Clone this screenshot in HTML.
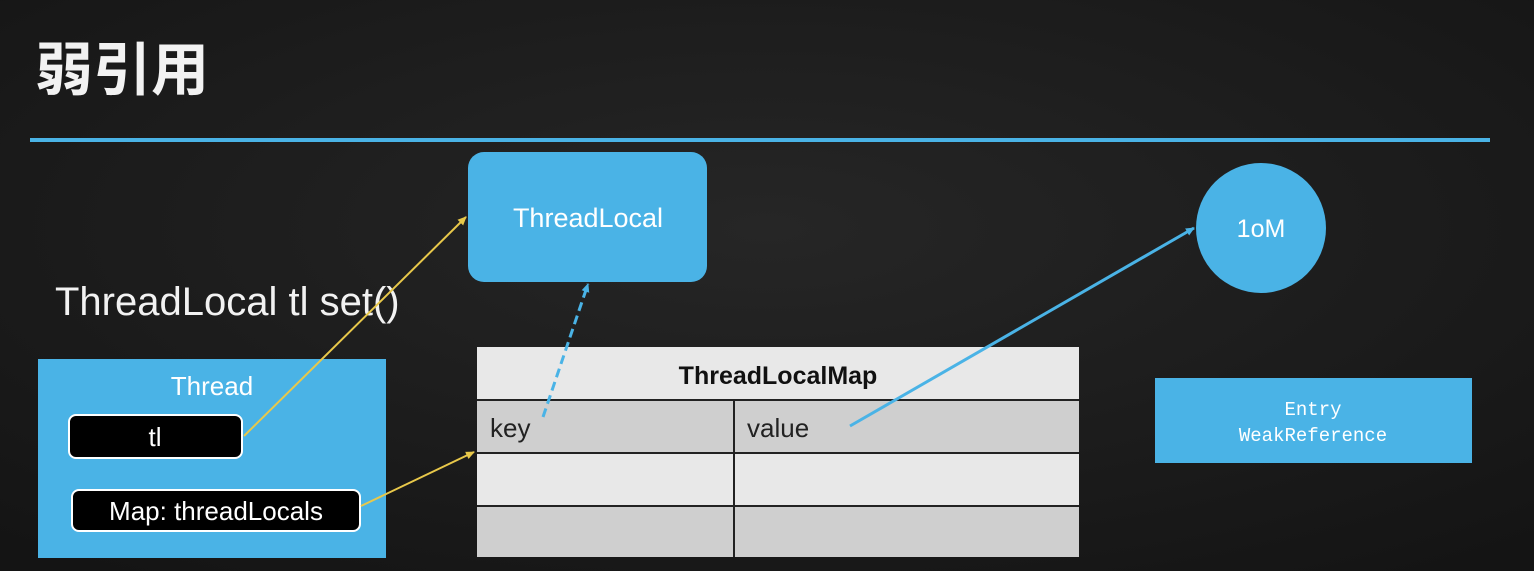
<!DOCTYPE html>
<html><head><meta charset="utf-8"><style>
html,body{margin:0;padding:0;background:#1b1b1b;}
svg{display:block}
</style></head><body>
<svg width="1534" height="571" viewBox="0 0 1534 571" xmlns="http://www.w3.org/2000/svg" font-family="Liberation Sans, sans-serif">
<defs>
<radialGradient id="bg" cx="50%" cy="40%" r="75%"><stop offset="0" stop-color="#262626"/><stop offset="1" stop-color="#141414"/></radialGradient>
<marker id="ay" markerWidth="10" markerHeight="10" refX="8" refY="5" orient="auto" markerUnits="userSpaceOnUse"><path d="M0,1 L9,5 L0,9 z" fill="#e8c84a"/></marker>
<marker id="ab" markerWidth="10" markerHeight="10" refX="8" refY="5" orient="auto" markerUnits="userSpaceOnUse"><path d="M0,1 L9,5 L0,9 z" fill="#4ab3e6"/></marker>
</defs>
<rect width="1534" height="571" fill="url(#bg)"/>
<text x="35" y="90" font-size="58" font-weight="bold" fill="#f2f2f2" font-family="Noto Sans CJK SC, sans-serif">弱引用</text>
<line x1="30" y1="140" x2="1490" y2="140" stroke="#4ab3e6" stroke-width="4"/>
<rect x="468" y="152" width="239" height="130" rx="16" fill="#4ab3e6"/>
<text x="588" y="227" font-size="27" fill="#fff" text-anchor="middle">ThreadLocal</text>
<circle cx="1261" cy="228" r="65" fill="#4ab3e6"/>
<text x="1261" y="237" font-size="25" fill="#fff" text-anchor="middle">1oM</text>
<rect x="1155" y="378" width="317" height="85" fill="#4ab3e6"/>
<text x="1313" y="415" font-size="19" fill="#fff" text-anchor="middle" font-family="Liberation Mono, monospace">Entry</text>
<text x="1313" y="441" font-size="19" fill="#fff" text-anchor="middle" font-family="Liberation Mono, monospace">WeakReference</text>
<text x="55" y="315" font-size="40" fill="#f2f2f2">ThreadLocal tl set()</text>
<rect x="38" y="359" width="348" height="199" fill="#4ab3e6"/>
<text x="212" y="395" font-size="26" fill="#fff" text-anchor="middle">Thread</text>
<rect x="69" y="415" width="173" height="43" rx="7" fill="#000" stroke="#fff" stroke-width="2"/>
<text x="155" y="446" font-size="26" fill="#fff" text-anchor="middle">tl</text>
<rect x="72" y="490" width="288" height="41" rx="7" fill="#000" stroke="#fff" stroke-width="2"/>
<text x="216" y="520" font-size="26" fill="#fff" text-anchor="middle">Map: threadLocals</text>
<rect x="477" y="347" width="602" height="53" fill="#e8e8e8"/>
<rect x="477" y="400" width="602" height="53" fill="#cfcfcf"/>
<rect x="477" y="453" width="602" height="53" fill="#e8e8e8"/>
<rect x="477" y="506" width="602" height="51" fill="#cfcfcf"/>
<g stroke="#222" stroke-width="2">
<line x1="477" y1="400" x2="1079" y2="400"/><line x1="477" y1="453" x2="1079" y2="453"/><line x1="477" y1="506" x2="1079" y2="506"/>
<line x1="734" y1="400" x2="734" y2="557"/>
</g>
<text x="778" y="384" font-size="25" font-weight="bold" fill="#111" text-anchor="middle">ThreadLocalMap</text>
<text x="490" y="437" font-size="26" fill="#222">key</text>
<text x="747" y="437" font-size="26" fill="#222">value</text>
<line x1="244" y1="436" x2="466" y2="217" stroke="#e8c84a" stroke-width="2" marker-end="url(#ay)"/>
<line x1="361" y1="506" x2="474" y2="452" stroke="#e8c84a" stroke-width="2" marker-end="url(#ay)"/>
<line x1="543" y1="417" x2="588" y2="284" stroke="#4ab3e6" stroke-width="3" stroke-dasharray="9,5" marker-end="url(#ab)"/>
<line x1="850" y1="426" x2="1194" y2="228" stroke="#4ab3e6" stroke-width="3" marker-end="url(#ab)"/>
</svg>
</body></html>
